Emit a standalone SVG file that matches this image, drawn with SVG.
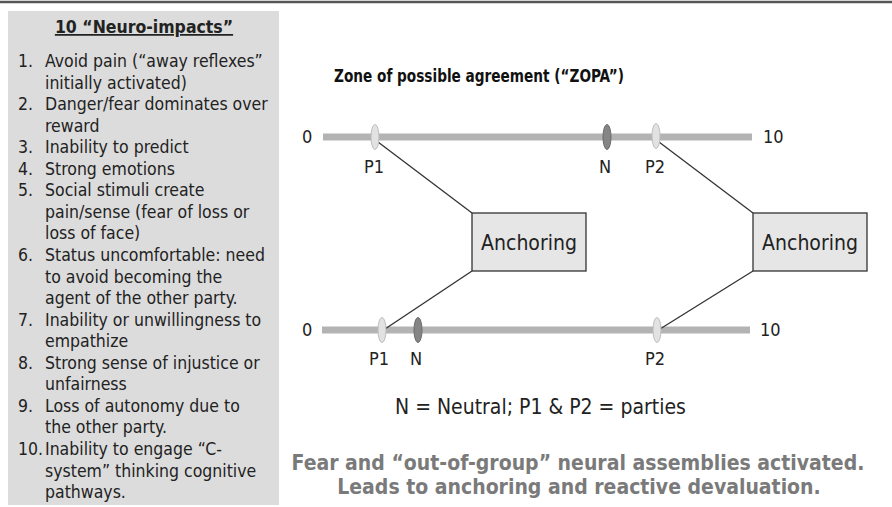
<svg xmlns="http://www.w3.org/2000/svg" width="892" height="507" viewBox="0 0 892 507">
<style>
.f{font-family:"DejaVu Sans Condensed","DejaVu Sans",sans-serif;font-stretch:condensed}
.list{font-size:17.5px;fill:#222}
.lbl{font-size:18px;fill:#222}
.box{fill:#e6e6e6;stroke:#333;stroke-width:1.3}
.boxt{font-size:21px;fill:#222;text-anchor:middle}
.scale{stroke:#b3b3b3;stroke-width:7}
.p{fill:#e2e2e2;stroke:#bdbdbd;stroke-width:1}
.n{fill:#858585;stroke:#6a6a6a;stroke-width:1}
.con{stroke:#333;stroke-width:1.3;fill:none}
</style>
<rect x="0" y="0" width="892" height="507" fill="#fff"/>
<line x1="0" y1="2" x2="892" y2="2" stroke="#555" stroke-width="2.5"/>
<g id="impacts-panel">
<rect x="8" y="11" width="271" height="494" fill="#dcdcdc"/>
<text class="f" x="144" y="33" font-size="17.5" font-weight="bold" text-anchor="middle" fill="#222" text-decoration="underline">10 “Neuro-impacts”</text>
<text class="f list">
<tspan x="18" y="67">1.</tspan><tspan x="45" y="67">Avoid pain (“away reflexes”</tspan>
<tspan x="45" y="88.6">initially activated)</tspan>
<tspan x="18" y="110.1">2.</tspan><tspan x="45" y="110.1">Danger/fear dominates over</tspan>
<tspan x="45" y="131.7">reward</tspan>
<tspan x="18" y="153.2">3.</tspan><tspan x="45" y="153.2">Inability to predict</tspan>
<tspan x="18" y="174.8">4.</tspan><tspan x="45" y="174.8">Strong emotions</tspan>
<tspan x="18" y="196.3">5.</tspan><tspan x="45" y="196.3">Social stimuli create</tspan>
<tspan x="45" y="217.9">pain/sense (fear of loss or</tspan>
<tspan x="45" y="239.4">loss of face)</tspan>
<tspan x="18" y="261">6.</tspan><tspan x="45" y="261">Status uncomfortable: need</tspan>
<tspan x="45" y="282.5">to avoid becoming the</tspan>
<tspan x="45" y="304.1">agent of the other party.</tspan>
<tspan x="18" y="325.6">7.</tspan><tspan x="45" y="325.6">Inability or unwillingness to</tspan>
<tspan x="45" y="347.2">empathize</tspan>
<tspan x="18" y="368.7">8.</tspan><tspan x="45" y="368.7">Strong sense of injustice or</tspan>
<tspan x="45" y="390.3">unfairness</tspan>
<tspan x="18" y="411.8">9.</tspan><tspan x="45" y="411.8">Loss of autonomy due to</tspan>
<tspan x="45" y="433.4">the other party.</tspan>
<tspan x="18" y="454.9">10.</tspan><tspan x="45" y="454.9">Inability to engage “C-</tspan>
<tspan x="45" y="476.5">system” thinking cognitive</tspan>
<tspan x="45" y="498">pathways.</tspan>
</text>
</g>
<text id="zopa-title" class="f" x="334" y="82" font-size="17" font-weight="bold" fill="#111" textLength="290" lengthAdjust="spacingAndGlyphs">Zone of possible agreement (“ZOPA”)</text>
<g id="scale-top">
<line class="scale" x1="323" y1="137" x2="752" y2="137"/>
<text class="f lbl" x="302" y="143">0</text>
<text class="f lbl" x="763" y="143">10</text>
</g>
<g id="scale-bottom">
<line class="scale" x1="322" y1="330" x2="750" y2="330"/>
<text class="f lbl" x="302" y="336">0</text>
<text class="f lbl" x="760" y="336">10</text>
</g>
<g id="connectors">
<line class="con" x1="378" y1="142" x2="472" y2="213"/>
<line class="con" x1="472" y1="271" x2="385" y2="329"/>
<line class="con" x1="659" y1="142" x2="753" y2="213"/>
<line class="con" x1="753" y1="271" x2="660" y2="329"/>
</g>
<g id="top-p1"><ellipse class="p" cx="375" cy="137" rx="4" ry="12.5"/><text class="f lbl" x="374" y="173" text-anchor="middle">P1</text></g>
<g id="top-n"><ellipse class="n" cx="607" cy="137" rx="4" ry="12.5"/><text class="f lbl" x="605" y="173" text-anchor="middle">N</text></g>
<g id="top-p2"><ellipse class="p" cx="656" cy="136" rx="4" ry="12.5"/><text class="f lbl" x="655" y="173" text-anchor="middle">P2</text></g>
<g id="bottom-p1"><ellipse class="p" cx="382" cy="330" rx="4" ry="12.5"/><text class="f lbl" x="379" y="365" text-anchor="middle">P1</text></g>
<g id="bottom-n"><ellipse class="n" cx="418" cy="330" rx="4" ry="12.5"/><text class="f lbl" x="416" y="365" text-anchor="middle">N</text></g>
<g id="bottom-p2"><ellipse class="p" cx="657" cy="330" rx="4" ry="12.5"/><text class="f lbl" x="655" y="365" text-anchor="middle">P2</text></g>
<g id="anchoring-1"><rect class="box" x="472" y="213" width="114" height="58"/><text class="f boxt" x="529" y="250">Anchoring</text></g>
<g id="anchoring-2"><rect class="box" x="753" y="213" width="114" height="58"/><text class="f boxt" x="810" y="250">Anchoring</text></g>
<text id="legend" class="f" x="395" y="414" font-size="21" fill="#222">N = Neutral; P1 &amp; P2 = parties</text>
<g id="caption" class="f" font-size="21" font-weight="bold" fill="#7a7a7a" text-anchor="middle">
<text x="578" y="470">Fear and “out-of-group” neural assemblies activated.</text>
<text x="579" y="494">Leads to anchoring and reactive devaluation.</text>
</g>
</svg>
